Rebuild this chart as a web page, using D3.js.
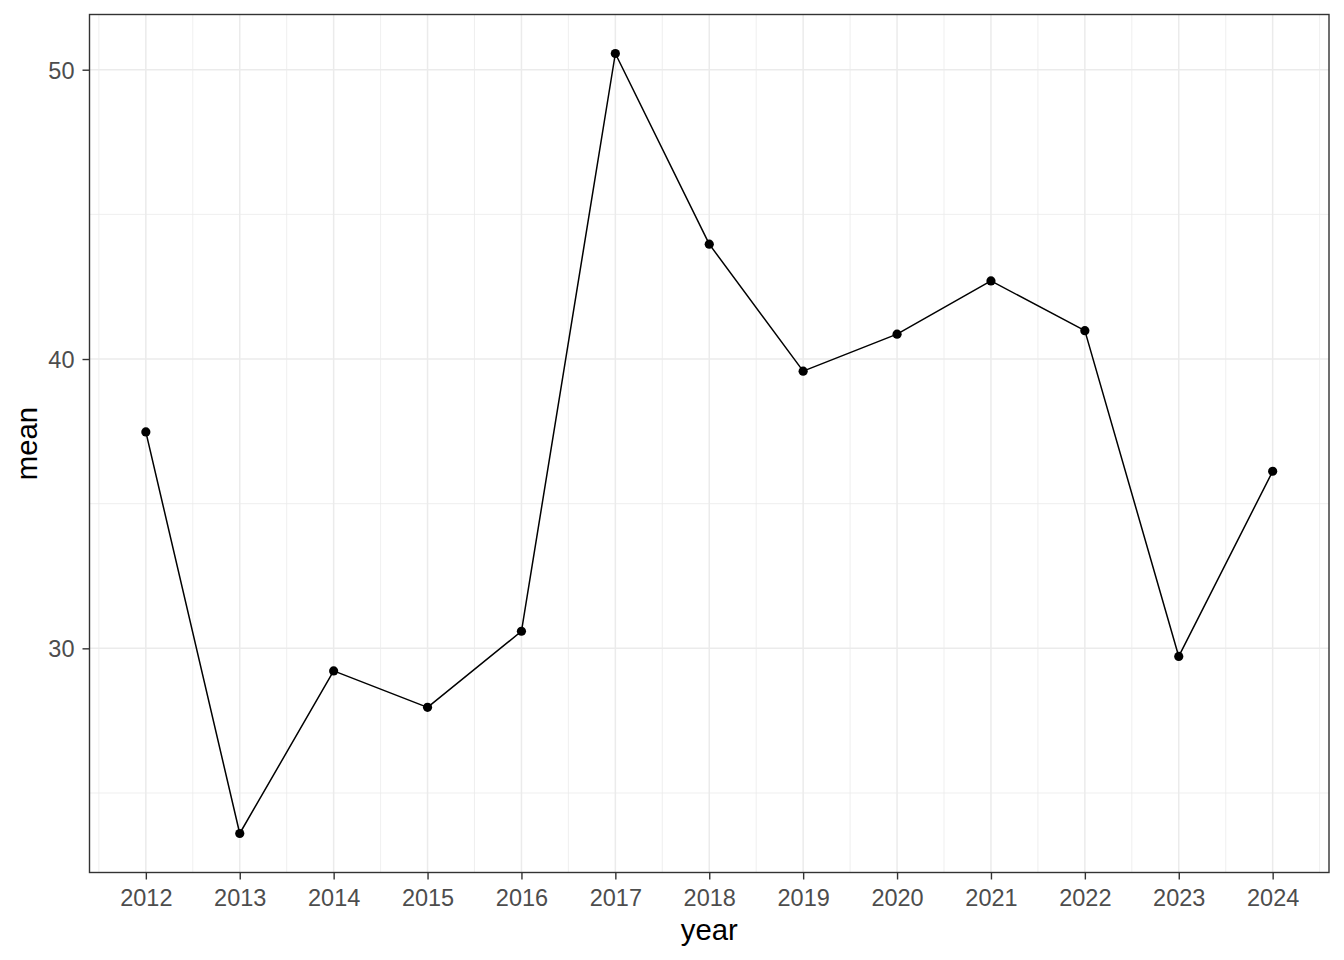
<!DOCTYPE html>
<html>
<head>
<meta charset="utf-8">
<script src="https://cdn.jsdelivr.net/npm/d3@7"></script>
<style>
  html, body { margin: 0; padding: 0; background: #fff; }
  svg { display: block; font-family: "Liberation Sans", Arial, sans-serif; }
</style>
</head>
<body>
<div id="chart"></div>
<script>
const years = [2012, 2013, 2014, 2015, 2016, 2017, 2018, 2019, 2020, 2021, 2022, 2023, 2024];
const means = [37.48, 23.6, 29.22, 27.96, 30.59, 50.56, 43.97, 39.58, 40.86, 42.7, 40.98, 29.72, 36.12];
const yTicks = [30, 40, 50];
const yMinor = [25, 35, 45];
const xMinor = [2011.5, 2012.5, 2013.5, 2014.5, 2015.5, 2016.5, 2017.5, 2018.5, 2019.5, 2020.5, 2021.5, 2022.5, 2023.5, 2024.5];

const width = 1344;
const height = 960;
const margin = { top: 14.5, right: 15, bottom: 87.5, left: 89.5 };
const gridColor = "#ebebeb";
const inkColor = "#333333";

const data = years.map((d, i) => ({ year: d, mean: means[i] }));

// ggplot-style 5% expansion on both scales
function expand(ext) {
  const pad = (ext[1] - ext[0]) * 0.05;
  return [ext[0] - pad, ext[1] + pad];
}

const x = d3
  .scaleLinear()
  .domain(expand(d3.extent(years)))
  .range([margin.left, width - margin.right]);
const y = d3
  .scaleLinear()
  .domain(expand(d3.extent(means)))
  .range([height - margin.bottom, margin.top]);

const svg = d3
  .select("#chart")
  .append("svg")
  .attr("width", width)
  .attr("height", height)
  .attr("viewBox", [0, 0, width, height]);

svg.append("rect").attr("width", width).attr("height", height).attr("fill", "#fff");

const gGrid = svg.append("g").attr("class", "grid");

gGrid
  .selectAll(".minor-x")
  .data(xMinor)
  .join("line")
  .attr("class", "minor-x")
  .attr("x1", (d) => x(d))
  .attr("x2", (d) => x(d))
  .attr("y1", margin.top)
  .attr("y2", height - margin.bottom)
  .attr("stroke", gridColor)
  .attr("stroke-width", 0.8);

gGrid
  .selectAll(".minor-y")
  .data(yMinor)
  .join("line")
  .attr("class", "minor-y")
  .attr("x1", margin.left)
  .attr("x2", width - margin.right)
  .attr("y1", (d) => y(d))
  .attr("y2", (d) => y(d))
  .attr("stroke", gridColor)
  .attr("stroke-width", 0.8);

gGrid
  .selectAll(".major-x")
  .data(years)
  .join("line")
  .attr("class", "major-x")
  .attr("x1", (d) => x(d))
  .attr("x2", (d) => x(d))
  .attr("y1", margin.top)
  .attr("y2", height - margin.bottom)
  .attr("stroke", gridColor)
  .attr("stroke-width", 1.5);

gGrid
  .selectAll(".major-y")
  .data(yTicks)
  .join("line")
  .attr("class", "major-y")
  .attr("x1", margin.left)
  .attr("x2", width - margin.right)
  .attr("y1", (d) => y(d))
  .attr("y2", (d) => y(d))
  .attr("stroke", gridColor)
  .attr("stroke-width", 1.5);

// series
const line = d3
  .line()
  .x((d) => x(d.year))
  .y((d) => y(d.mean));

svg
  .append("path")
  .datum(data)
  .attr("fill", "none")
  .attr("stroke", "#000")
  .attr("stroke-width", 1.5)
  .attr("stroke-linejoin", "round")
  .attr("d", line);

svg
  .append("g")
  .selectAll("circle")
  .data(data)
  .join("circle")
  .attr("cx", (d) => x(d.year))
  .attr("cy", (d) => y(d.mean))
  .attr("r", 4.6)
  .attr("fill", "#000");

// panel border
svg
  .append("rect")
  .attr("x", margin.left)
  .attr("y", margin.top)
  .attr("width", width - margin.right - margin.left)
  .attr("height", height - margin.bottom - margin.top)
  .attr("fill", "none")
  .attr("stroke", inkColor)
  .attr("stroke-width", 1.4);

// axes
const gX = svg
  .append("g")
  .attr("transform", `translate(0,${height - margin.bottom})`)
  .call(
    d3
      .axisBottom(x)
      .tickValues(years)
      .tickFormat(d3.format("d"))
      .tickSizeOuter(0)
      .tickSizeInner(7)
      .tickPadding(4)
  );

const gY = svg
  .append("g")
  .attr("transform", `translate(${margin.left},0)`)
  .call(
    d3
      .axisLeft(y)
      .tickValues(yTicks)
      .tickSizeOuter(0)
      .tickSizeInner(7)
      .tickPadding(8)
  );

[gX, gY].forEach((g) => {
  g.select(".domain").remove();
  g.selectAll(".tick line").attr("stroke", inkColor).attr("stroke-width", 1.4);
  g.selectAll(".tick text")
    .attr("fill", "#4d4d4d")
    .attr("font-size", 23.5)
    .attr("font-family", "Liberation Sans, Arial, sans-serif");
});

gX.selectAll(".tick text").attr("dy", null).attr("y", 0).attr("dominant-baseline", "auto")
  .attr("transform", "translate(0,33.5)");
gY.selectAll(".tick text").attr("dy", "0.36em");

// axis titles
svg
  .append("text")
  .attr("x", (margin.left + width - margin.right) / 2)
  .attr("y", 940)
  .attr("text-anchor", "middle")
  .attr("font-size", 29.3)
  .attr("fill", "#000")
  .text("year");

svg
  .append("text")
  .attr("transform", `translate(37,${(margin.top + height - margin.bottom) / 2}) rotate(-90)`)
  .attr("text-anchor", "middle")
  .attr("font-size", 29.3)
  .attr("fill", "#000")
  .text("mean");
</script>
</body>
</html>
